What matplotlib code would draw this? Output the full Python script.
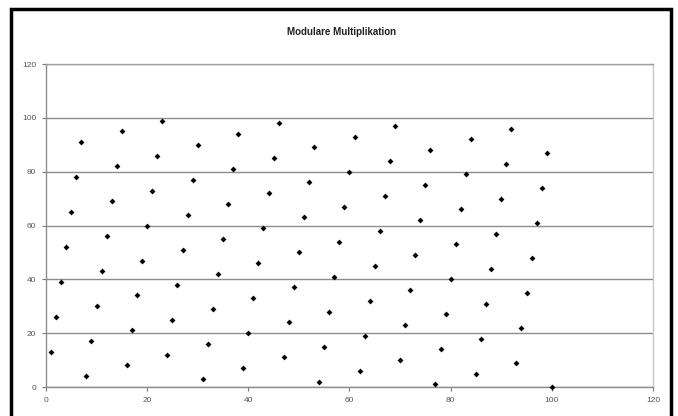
import matplotlib.pyplot as plt
from matplotlib.patches import Rectangle

plt.rcParams['font.family'] = ['Liberation Sans', 'DejaVu Sans']

# x = Faktor, y = Rest
x_values = list(range(1, 101))
y_values = [13, 26, 39, 52, 65, 78, 91, 4, 17, 30,
            43, 56, 69, 82, 95, 8, 21, 34, 47, 60,
            73, 86, 99, 12, 25, 38, 51, 64, 77, 90,
            3, 16, 29, 42, 55, 68, 81, 94, 7, 20,
            33, 46, 59, 72, 85, 98, 11, 24, 37, 50,
            63, 76, 89, 2, 15, 28, 41, 54, 67, 80,
            93, 6, 19, 32, 45, 58, 71, 84, 97, 10,
            23, 36, 49, 62, 75, 88, 1, 14, 27, 40,
            53, 66, 79, 92, 5, 18, 31, 44, 57, 70,
            83, 96, 9, 22, 35, 48, 61, 74, 87, 0]
ticks = [0, 20, 40, 60, 80, 100, 120]

fig = plt.figure(figsize=(6.78, 4.16), dpi=100)
ax = fig.add_axes([0.0678, 0.0697, 0.8953, 0.7764])

ax.scatter(x_values, y_values, marker='D', s=9, color='black', linewidths=0,
           zorder=3, clip_on=False)

ax.set_xlim(0, 120)
ax.set_ylim(0, 120)
ax.set_xticks(ticks)
ax.set_yticks(ticks)
ax.tick_params(labelsize=6, colors='#777777', length=3, width=0.8, pad=4)
for lab in ax.get_xticklabels() + ax.get_yticklabels():
    lab.set_color('#555555')

ax.grid(axis='y', color='#8c8c8c', linewidth=1)
ax.set_axisbelow(True)
ax.spines['left'].set_color('#8c8c8c')
ax.spines['bottom'].set_color('#8c8c8c')
ax.spines['top'].set_color('#a0a0a0')
ax.spines['right'].set_color('#c8c8c8')
for s in ax.spines.values():
    s.set_linewidth(1)

fig.text(0.504, 0.923, 'Modulare Multiplikation', ha='center', va='center',
         fontsize=7, fontweight='bold', color='#222222')

# schwarzer Rahmen
fig.patches.append(Rectangle((11 / 678, -0.05), 660 / 678, 1 - 9 / 416 + 0.05,
                             transform=fig.transFigure, fill=False,
                             edgecolor='black', linewidth=2.5))

fig.savefig('out.png', dpi=100)
